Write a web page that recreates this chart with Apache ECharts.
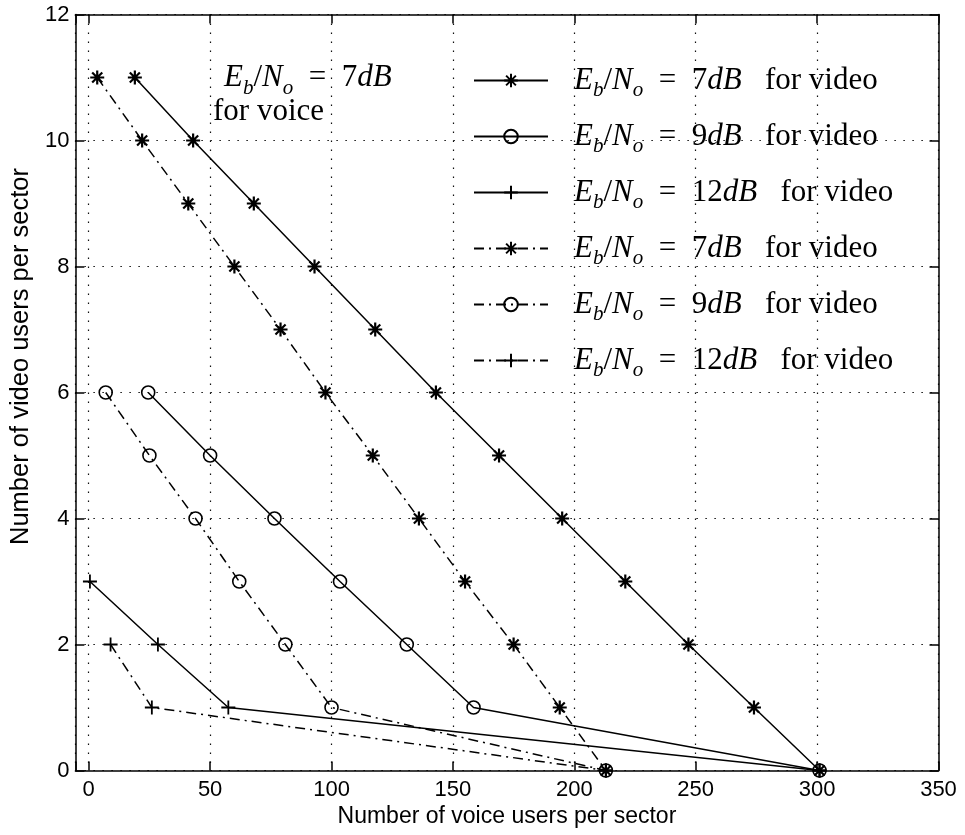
<!DOCTYPE html>
<html>
<head>
<meta charset="utf-8">
<script src="https://cdn.jsdelivr.net/npm/echarts@6/dist/echarts.min.js"></script>
<style>
  html, body { margin: 0; padding: 0; background: #fff; }
  #chart { width: 965px; height: 835px; }
</style>
</head>
<body>
<div id="chart"></div>
<script>
// Voice / video capacity per sector for several video Eb/No targets (voice at 7 dB)
const voiceSolid7 = [19, 43, 68, 93, 118, 143, 169, 195, 221, 247, 274, 301];
const videoSolid7 = [11, 10, 9, 8, 7, 6, 5, 4, 3, 2, 1, 0];
const voiceSolid9 = [24.5, 50, 76.5, 103.5, 131, 158.5, 301];
const videoSolid9 = [6, 5, 4, 3, 2, 1, 0];
const voiceSolid12 = [0.5, 28.5, 57.5, 301];
const videoSolid12 = [3, 2, 1, 0];

const voiceDash7 = [3.5, 22, 41, 60, 79, 97.5, 117, 136, 155, 175, 194, 213];
const videoDash7 = [11, 10, 9, 8, 7, 6, 5, 4, 3, 2, 1, 0];
const voiceDash9 = [7, 25, 44, 62, 81, 100, 213];
const videoDash9 = [6, 5, 4, 3, 2, 1, 0];
const voiceDash12 = [9, 26, 213];
const videoDash12 = [2, 1, 0];

const xTickValues = [0, 50, 100, 150, 200, 250, 300, 350];
const yTickValues = [0, 2, 4, 6, 8, 10, 12];
const legendDb = ['7', '9', '12', '7', '9', '12'];

const STAR = 'path://M0,-10L0,10M-10,0L10,0M-7.2,-7.2L7.2,7.2M-7.2,7.2L7.2,-7.2';
const PLUS = 'path://M0,-10L0,10M-10,0L10,0';
const DASHDOT = [10, 5, 2, 5];

function pairs(xs, ys) { return xs.map((x, i) => [x, ys[i]]); }

const seriesDefs = [
  { name: 'video 7 dB, case A',  xs: voiceSolid7,  ys: videoSolid7,  symbol: STAR,     size: 14, bw: 2.2, dash: 'solid' },
  { name: 'video 9 dB, case A',  xs: voiceSolid9,  ys: videoSolid9,  symbol: 'circle', size: 13, bw: 1.6, dash: 'solid' },
  { name: 'video 12 dB, case A', xs: voiceSolid12, ys: videoSolid12, symbol: PLUS,     size: 14, bw: 1.8, dash: 'solid' },
  { name: 'video 7 dB, case B',  xs: voiceDash7,   ys: videoDash7,   symbol: STAR,     size: 14, bw: 2.2, dash: DASHDOT },
  { name: 'video 9 dB, case B',  xs: voiceDash9,   ys: videoDash9,   symbol: 'circle', size: 13, bw: 1.6, dash: DASHDOT },
  { name: 'video 12 dB, case B', xs: voiceDash12,  ys: videoDash12,  symbol: PLUS,     size: 14, bw: 1.8, dash: DASHDOT }
];

const SERIF = 'Liberation Serif';
const SANS = 'Liberation Sans';
const MAIN = 31;
const SUB = 21;

const mathRich = {
  e:   { fontFamily: SERIF, fontStyle: 'italic', fontSize: MAIN, lineHeight: 32, color: '#000' },
  el:  { fontFamily: SERIF, fontStyle: 'italic', fontSize: MAIN, lineHeight: 32, color: '#000', padding: [0, 0, 0, 21] },
  it:  { fontFamily: SERIF, fontStyle: 'italic', fontSize: MAIN, lineHeight: 32, color: '#000' },
  sub: { fontFamily: SERIF, fontStyle: 'italic', fontSize: SUB, lineHeight: SUB, color: '#000', padding: [20, 0, 0, 0] },
  rm:  { fontFamily: SERIF, fontSize: MAIN, lineHeight: 32, color: '#000' }
};

function ebno(db, lead) {
  return '{' + (lead ? 'el' : 'e') + '|E}{sub|b}{rm|/}{it|N}{sub|o}{rm|  =  }{rm|' + db + '}{it|dB}';
}

const chart = echarts.init(document.getElementById('chart'), null, { renderer: 'canvas' });

const axisLineStyle = { color: '#000', width: 1.5 };
const gridLineStyle = { color: '#111', width: 1.2, type: [1.5, 7.5] };

chart.setOption({
  backgroundColor: '#fff',
  animation: false,
  grid: { left: 68.2, right: 26.5, top: 14.5, bottom: 64.5, containLabel: false },
  xAxis: [
    {
      type: 'value', min: -5.5, max: 350, splitNumber: 7,
      name: 'Number of voice users per sector', nameLocation: 'middle', nameGap: 35,
      nameTextStyle: { fontFamily: SANS, fontSize: 23, color: '#000' },
      axisLine: { show: true, onZero: false, lineStyle: axisLineStyle },
      axisTick: { show: true, inside: true, length: 9, lineStyle: axisLineStyle },
      axisLabel: {
        margin: 8, fontFamily: SANS, fontSize: 22, color: '#000',
        formatter: v => xTickValues.includes(v) ? String(v) : ''
      },
      splitLine: { show: true, lineStyle: gridLineStyle }
    },
    {
      type: 'value', min: -5.5, max: 350, splitNumber: 7, position: 'top',
      axisLine: { show: true, onZero: false, lineStyle: axisLineStyle },
      axisTick: { show: true, inside: true, length: 9, lineStyle: axisLineStyle },
      axisLabel: { show: false },
      splitLine: { show: false }
    }
  ],
  yAxis: [
    {
      type: 'value', min: 0, max: 12, interval: 2,
      name: 'Number of video users per sector', nameLocation: 'middle', nameGap: 36,
      nameTextStyle: { fontFamily: SANS, fontSize: 25.5, color: '#000', padding: [0, 0, 0, 72] },
      axisLine: { show: true, onZero: false, lineStyle: axisLineStyle },
      axisTick: { show: true, inside: true, length: 9, lineStyle: axisLineStyle },
      axisLabel: {
        margin: 6, fontFamily: SANS, fontSize: 22, color: '#000',
        formatter: v => yTickValues.includes(v) ? String(v) : ''
      },
      splitLine: { show: true, lineStyle: gridLineStyle }
    },
    {
      type: 'value', min: 0, max: 12, interval: 2, position: 'right',
      axisLine: { show: true, onZero: false, lineStyle: axisLineStyle },
      axisTick: { show: true, inside: true, length: 9, lineStyle: axisLineStyle },
      axisLabel: { show: false },
      splitLine: { show: false }
    }
  ],
  legend: {
    orient: 'vertical', left: 468, top: 55,
    itemWidth: 74, itemHeight: 17, itemGap: 15,
    backgroundColor: 'transparent',
    data: seriesDefs.map(s => s.name),
    selectedMode: false,
    formatter: name => {
      const i = seriesDefs.findIndex(s => s.name === name);
      return ebno(legendDb[i], true) + '{rm|   for video}';
    },
    textStyle: { rich: mathRich }
  },
  graphic: [
    {
      type: 'text', x: 224, y: 78,
      style: { text: ebno('7', false), rich: mathRich, verticalAlign: 'middle', align: 'left' }
    },
    {
      type: 'text', x: 213, y: 112,
      style: { text: '{rm|for voice}', rich: mathRich, verticalAlign: 'middle', align: 'left' }
    }
  ],
  series: seriesDefs.map(s => ({
    type: 'line',
    name: s.name,
    data: pairs(s.xs, s.ys),
    symbol: s.symbol,
    symbolSize: s.size,
    showAllSymbol: true,
    clip: false,
    lineStyle: { color: '#000', width: 1.5, type: s.dash },
    itemStyle: { color: 'rgba(0,0,0,0)', borderColor: '#000', borderWidth: s.bw },
    emphasis: { disabled: true }
  }))
});
</script>
</body>
</html>
